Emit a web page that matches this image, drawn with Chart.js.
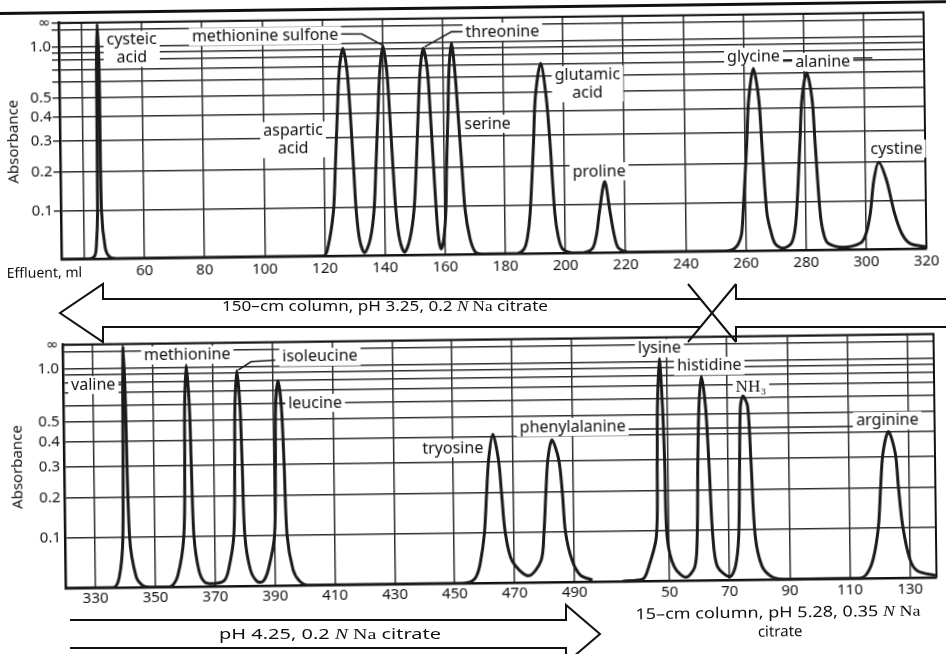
<!DOCTYPE html>
<html>
<head>
<meta charset="utf-8">
<script src="https://cdn.jsdelivr.net/npm/chart.js@4.4.0/dist/chart.umd.min.js"></script>
<style>
  html, body { margin: 0; padding: 0; background: #fff; overflow: hidden; }
  /* the scanned chart block sits slightly tilted */
  #page { position: absolute; left: 0; top: 0; width: 946px; height: 654px;
          transform: rotate(-0.71deg); transform-origin: 80px 300px; }
  .box { position: absolute; }
  #rule { position: absolute; left: -30px; top: 10.5px; width: 1010px; border-top: 3px solid #111; }
  svg { position: absolute; left: 0; top: 0; }
</style>
</head>
<body>
<div id="page">
  <div id="rule"></div>
  <div class="box" style="left:0;top:0;width:946px;height:284px"><canvas id="upperChart"></canvas></div>
  <div class="box" style="left:0;top:330px;width:946px;height:282px"><canvas id="lowerChart"></canvas></div>
  <div class="box" style="left:595px;top:330px;width:351px;height:282px"><canvas id="basicChart"></canvas></div>
  <svg width="946" height="654" font-family="Noto Sans, DejaVu Sans, sans-serif" font-size="14" fill="#111">
    <text x="7" y="277">Effluent, ml</text>
    <text x="774" y="626" text-anchor="middle" font-size="15" textLength="285" lengthAdjust="spacingAndGlyphs">15–cm column, pH 5.28, 0.35<tspan font-family="Liberation Serif, DejaVu Serif, serif" font-style="italic"> N</tspan><tspan font-family="Liberation Serif, DejaVu Serif, serif"> Na</tspan></text>
    <text x="776" y="645" text-anchor="middle" font-size="15">citrate</text>
  </svg>
</div>
<!-- eluent arrows are not tilted in the scan -->
<svg width="946" height="654" font-family="Noto Sans, DejaVu Sans, sans-serif" font-size="15" fill="#111">
  <g fill="none" stroke="#111" stroke-width="2">
    <polyline points="700,299 103,299 103,284 60,313 103,342 103,327 700,327"/>
    <line x1="688" y1="284" x2="736" y2="342"/>
    <line x1="688" y1="342" x2="736" y2="284"/>
    <polyline points="736,284 736,299 950,299"/>
    <polyline points="736,342 736,327 950,327"/>
    <polyline points="70,620 566,620 566,605 600,634 566,663 566,648 70,648"/>
  </g>
  <text x="385" y="311" text-anchor="middle" textLength="326" lengthAdjust="spacingAndGlyphs">150–cm column, pH 3.25, 0.2<tspan font-family="Liberation Serif, DejaVu Serif, serif" font-style="italic"> N</tspan><tspan font-family="Liberation Serif, DejaVu Serif, serif"> Na</tspan> citrate</text>
  <text x="330" y="639" text-anchor="middle" textLength="222" lengthAdjust="spacingAndGlyphs">pH 4.25, 0.2<tspan font-family="Liberation Serif, DejaVu Serif, serif" font-style="italic"> N</tspan><tspan font-family="Liberation Serif, DejaVu Serif, serif">  Na</tspan> citrate</text>
</svg>

<script>
// ---- data (effluent ml, absorbance) ----

// 150-cm column, pH 3.25
var upperMl = [
  32.4, 41.5, 43.4, 44.0, 44.6, 44.8, 45.2, 45.7, 45.9, 47.0, 48.4, 50.5,
  119.5, 121.0, 123.0, 123.8, 124.7, 125.5, 126.8, 128.1, 129.0, 129.9, 130.6, 131.6, 133.2,
  135.1, 136.5, 137.3, 138.2, 139.0, 140.1, 141.3, 142.1, 143.0, 143.8, 144.9, 146.5,
  148.3, 149.8, 150.7, 151.6, 152.4, 153.5, 154.8, 155.6, 156.5, 157.2, 157.9, 158.7,
  159.6, 160.4, 160.8, 161.5, 162.0, 162.9, 163.9, 164.8, 165.9, 166.8, 168.3, 170.0, 172,
  184, 186.2, 187.4, 188.4, 189.8, 190.6, 192.5, 194.2, 195.3, 196.6, 197.7, 199.0, 202,
  206, 209.0, 210.4, 211.4, 213.3, 215.0, 216.2, 217.6, 221,
  253.5, 255.8, 257.4, 258.6, 259.2, 260.7, 261.5, 263.2, 264.9, 265.7, 267.1, 268.5, 269.8, 272.3,
  275.0, 276.2, 277.0, 278.4, 279.2, 280.9, 282.6, 283.4, 284.8, 285.8, 287.3, 292.3,
  298.2, 300.0, 301.5, 302.8, 304.5, 307.0, 309.5, 311.8, 314.5, 320
];
var upperAbs = [
  0, 0, 0.005, 0.02, 0.1, 0.68, 2.2, 0.68, 0.1, 0.02, 0.003, 0,
  0, 0.015, 0.09, 0.2, 0.4, 0.66, 0.913, 0.66, 0.4, 0.2, 0.09, 0.03, 0.005,
  0.03, 0.09, 0.2, 0.4, 0.66, 0.94, 0.66, 0.4, 0.2, 0.09, 0.03, 0.005,
  0.03, 0.09, 0.2, 0.4, 0.66, 0.898, 0.66, 0.4, 0.2, 0.09, 0.03, 0.01,
  0.03, 0.09, 0.2, 0.4, 0.66, 0.98, 0.66, 0.4, 0.2, 0.09, 0.03, 0.004, 0,
  0, 0.008, 0.03, 0.081, 0.273, 0.47, 0.708, 0.47, 0.273, 0.081, 0.03, 0.008, 0,
  0, 0.008, 0.035, 0.08, 0.155, 0.08, 0.035, 0.008, 0,
  0, 0.003, 0.012, 0.032, 0.076, 0.265, 0.44, 0.641, 0.44, 0.265, 0.076, 0.033, 0.012, 0.004,
  0.012, 0.033, 0.076, 0.265, 0.44, 0.603, 0.44, 0.265, 0.076, 0.033, 0.012, 0.004,
  0.012, 0.03, 0.072, 0.15, 0.199, 0.15, 0.072, 0.03, 0.01, 0.003
];

// pH 4.25 part of the lower run
var lowerMl = [
  320, 336, 338.0, 339.35, 339.9, 340.2, 340.7, 341.6, 343.6, 345.8, 348,
  355, 357.5, 359.7, 360.3, 360.5, 361.2, 362.1, 362.5, 363.1, 364.6, 366.5, 369.7,
  373.0, 374.5, 376.4, 377.0, 377.3, 378.1, 379.0, 379.5, 380.1, 381.8, 384.0, 386.0,
  387.8, 390.0, 390.6, 390.9, 391.8, 392.8, 393.5, 394.2, 396.0, 398.1, 401,
  451, 455.5, 457.2, 458.6, 460.1, 461.0, 461.8, 463.3, 465.1, 466.0, 467.1, 469.3, 474.7,
  478.9, 480.0, 480.8, 481.6, 483.0, 485.2, 486.3, 487.2, 489.3, 492.0, 496.0
];
var lowerAbs = [
  0, 0, 0.019, 0.1, 0.7, 2.0, 0.7, 0.1, 0.02, 0.003, 0,
  0, 0.02, 0.1, 0.3, 0.58, 1.05, 0.58, 0.3, 0.1, 0.03, 0.008, 0.005,
  0.01, 0.03, 0.1, 0.3, 0.58, 0.94, 0.58, 0.3, 0.1, 0.03, 0.008, 0.008,
  0.03, 0.1, 0.3, 0.58, 0.80, 0.58, 0.3, 0.1, 0.03, 0.008, 0,
  0, 0.003, 0.012, 0.037, 0.099, 0.199, 0.305, 0.41, 0.305, 0.199, 0.099, 0.04, 0.012,
  0.04, 0.099, 0.199, 0.305, 0.381, 0.305, 0.199, 0.099, 0.04, 0.012, 0.003
];

// 15-cm column, pH 5.28
var basicMl = [
  34.5, 41.2, 42.8, 45.8, 46.4, 46.7, 47.5, 48.4, 48.9, 49.4, 51.7, 55.5,
  58.5, 59.4, 59.9, 60.5, 61.4, 62.7, 63.6, 64.6, 66.0, 70.1,
  72.0, 73.2, 73.8, 74.3, 75.2, 76.7, 77.6, 78.7, 80.8, 84.0, 88.0,
  112.9, 115.5, 117.8, 119.7, 120.6, 121.5, 123.4, 125.6, 126.5, 127.8, 130.0, 132.5, 138.8
];
var basicAbs = [
  0, 0.004, 0.02, 0.086, 0.285, 0.54, 1.06, 0.54, 0.285, 0.086, 0.025, 0.006,
  0.025, 0.086, 0.285, 0.54, 0.79, 0.54, 0.285, 0.086, 0.025, 0.006,
  0.025, 0.086, 0.285, 0.54, 0.61, 0.54, 0.285, 0.086, 0.025, 0.005, 0,
  0, 0.007, 0.035, 0.103, 0.204, 0.312, 0.40, 0.312, 0.204, 0.103, 0.035, 0.012, 0.003
];

// axis ticks
var absTicks = [0.1, 0.2, 0.3, 0.4, 0.5, 0.6, 0.7, 0.8, 0.9, 1.0, 1.5, 9];
var absTickText = ['0.1', '0.2', '0.3', '0.4', '0.5', '', '', '', '', '1.0', '', '∞'];
var upperTicks = [40, 60, 80, 100, 120, 140, 160, 180, 200, 220, 240, 260, 280, 300, 320];
var lowerTicks = [330, 350, 370, 390, 410, 430, 450, 470, 490];
var basicTicks = [50, 70, 90, 110, 130];

// peak names: text, ml, absorbance of first line
var upperLabels = [
  ['cysteic\nacid', 56.6, 1.12],
  ['methionine sulfone', 101.0, 1.18],
  ['threonine', 179.9, 1.22],
  ['aspartic\nacid', 109.9, 0.329],
  ['serine', 174.6, 0.347],
  ['glutamic\nacid', 208.0, 0.606],
  ['proline', 211.5, 0.182],
  ['glycine', 263.3, 0.747],
  ['alanine', 286.3, 0.690],
  ['cystine', 310.5, 0.239]
];
var upperLeaders = [
  [[125.9, 1.21], [133.2, 1.20], [139.8, 0.96]],
  [[167.1, 1.23], [163.0, 1.24], [154.0, 0.92]],
  [[272.3, 0.71], [276.8, 0.71]],
  [[296.1, 0.72], [302.8, 0.72]]
];
var lowerLabels = [
  ['valine', 330.1, 0.777],
  ['methionine', 361.6, 1.31],
  ['isoleucine', 405.9, 1.20],
  ['leucine', 404.1, 0.598],
  ['tryosine', 449.9, 0.351],
  ['phenylalanine', 490.0, 0.439]
];
var lowerLeaders = [
  [[337.4, 0.777], [339.5, 0.777]],
  [[378.6, 0.95], [382.9, 1.10], [391.0, 1.13]],
  [[393.2, 0.598], [395.2, 0.598]],
  [[507.5, 0.425], [583.7, 0.425]]
];
var basicLabels = [
  ['lysine', 47.6, 1.345],
  ['histidine', 64.1, 0.92],
  ['NH₃', 77.9, 0.678, 'serif'],
  ['arginine', 123.1, 0.451]
];

// ---- absorbance axis: linear in transmittance, labelled in absorbance ----
class AbsorbanceScale extends Chart.LinearScale {
  getPixelForValue(a) { return this.getPixelForDecimal(1 - Math.pow(10, -a)); }
  getValueForPixel(p) { return -Math.log10(1 - this.getDecimalForPixel(p)); }
}
AbsorbanceScale.id = 'absorbance';
Chart.register(AbsorbanceScale);

var SANS = "'Noto Sans', 'DejaVu Sans', sans-serif";
var SERIF = "'Liberation Serif', 'DejaVu Serif', serif";
Chart.defaults.font.family = SANS;
Chart.defaults.color = '#111';
Chart.defaults.animation = false;
Chart.defaults.events = [];
Chart.defaults.plugins.legend.display = false;
Chart.defaults.plugins.tooltip.enabled = false;

var GRID = '#2e2e2e';

function pts(xs, ys) {
  return xs.map(function (x, i) { return { x: x, y: ys[i] }; });
}

function labelPlugin(labels, leaders) {
  return {
    id: 'peakLabels',
    beforeDatasetsDraw: function (chart) {
      var ctx = chart.ctx, sx = chart.scales.x, sy = chart.scales.y;
      ctx.save();
      ctx.strokeStyle = '#1a1a1a';
      ctx.lineWidth = 1.5;
      leaders.forEach(function (l) {
        ctx.beginPath();
        l.forEach(function (p, i) {
          var px = sx.getPixelForValue(p[0]), py = sy.getPixelForValue(p[1]);
          if (i) ctx.lineTo(px, py); else ctx.moveTo(px, py);
        });
        ctx.stroke();
      });
      labels.forEach(function (l) {
        var lines = l[0].split('\n');
        ctx.font = l[3] === 'serif' ? '17px ' + SERIF : '16px ' + SANS;
        var w = Math.max.apply(null, lines.map(function (t) { return ctx.measureText(t).width; }));
        var cx = sx.getPixelForValue(l[1]), cy = sy.getPixelForValue(l[2]);
        ctx.fillStyle = '#fff';
        ctx.fillRect(cx - w / 2 - 3, cy - 9, w + 6, 18 * lines.length);
        ctx.fillStyle = '#111';
        ctx.textAlign = 'center';
        ctx.textBaseline = 'middle';
        lines.forEach(function (t, i) { ctx.fillText(t, cx, cy + i * 18); });
      });
      ctx.restore();
    }
  };
}

var framePlugin = {
  id: 'frame',
  beforeDatasetsDraw: function (chart) {
    var a = chart.chartArea, ctx = chart.ctx;
    ctx.save();
    ctx.strokeStyle = '#111';
    ctx.lineWidth = 2;
    ctx.beginPath();
    ctx.moveTo(a.left, a.top);
    ctx.lineTo(a.right, a.top);
    ctx.lineTo(a.right, a.bottom);
    ctx.stroke();
    ctx.restore();
  }
};

function trace(xs, ys) {
  return {
    data: pts(xs, ys),
    borderColor: '#1b1b1b',
    borderWidth: 3,
    pointRadius: 0,
    tension: 0.3,
    clip: { left: 6, right: 6, top: 6, bottom: 1 }
  };
}

function yAxis(width, tickLen, pad) {
  return {
    type: 'absorbance',
    min: 0,
    max: 3,
    afterBuildTicks: function (s) { s.ticks = absTicks.map(function (v) { return { value: v }; }); },
    afterFit: function (s) { s.width = width; },
    grid: { color: GRID, lineWidth: 1.5, drawTicks: tickLen > 0, tickLength: tickLen },
    border: { color: '#111', width: 2.5 },
    ticks: { autoSkip: false, padding: pad, font: { size: 15 },
             callback: function (v, i) { return absTickText[i]; } },
    title: { display: true, text: 'Absorbance', font: { size: 15 }, padding: { top: 7, bottom: 0 } }
  };
}

function xAxis(min, max, ticks, height, pad, showBorder, hideFirst) {
  return {
    type: 'linear',
    min: min,
    max: max,
    afterBuildTicks: function (s) { s.ticks = ticks.map(function (v) { return { value: v }; }); },
    afterFit: function (s) { s.height = height; },
    grid: { color: GRID, lineWidth: 1.5, drawTicks: false },
    border: { display: showBorder, color: '#111', width: 2.5 },
    ticks: { autoSkip: false, maxRotation: 0, padding: pad, font: { size: 15 },
             callback: function (v, i) { return (hideFirst && i === 0) ? '' : String(v); } }
  };
}

new Chart('upperChart', {
  type: 'line',
  data: { datasets: [trace(upperMl, upperAbs)] },
  options: {
    responsive: true,
    maintainAspectRatio: false,
    layout: { padding: { top: 22.7, right: 19, left: 0, bottom: 0 } },
    scales: {
      x: xAxis(32.4, 320, upperTicks, 25, 4, true, true),
      y: yAxis(62, 7, 1)
    }
  },
  plugins: [framePlugin, labelPlugin(upperLabels, upperLeaders)]
});

new Chart('lowerChart', {
  type: 'line',
  data: { datasets: [trace(lowerMl, lowerAbs)] },
  options: {
    responsive: true,
    maintainAspectRatio: false,
    layout: { padding: { top: 14.5, right: 13, left: 0, bottom: 0 } },
    scales: {
      x: xAxis(320, 610.9, lowerTicks, 24, 2, true, false),
      y: yAxis(62, 0, 4)
    }
  },
  plugins: [framePlugin, labelPlugin(lowerLabels, lowerLeaders)]
});

new Chart('basicChart', {
  type: 'line',
  data: { datasets: [trace(basicMl, basicAbs)] },
  options: {
    responsive: true,
    maintainAspectRatio: false,
    layout: { padding: { top: 14.5, right: 13, left: 0, bottom: 0 } },
    scales: {
      x: xAxis(26.9, 138.8, basicTicks, 24, 3, false, false),
      y: Object.assign(yAxis(0, 0, 0), { display: false })
    }
  },
  plugins: [labelPlugin(basicLabels, [])]
});
</script>
</body>
</html>
